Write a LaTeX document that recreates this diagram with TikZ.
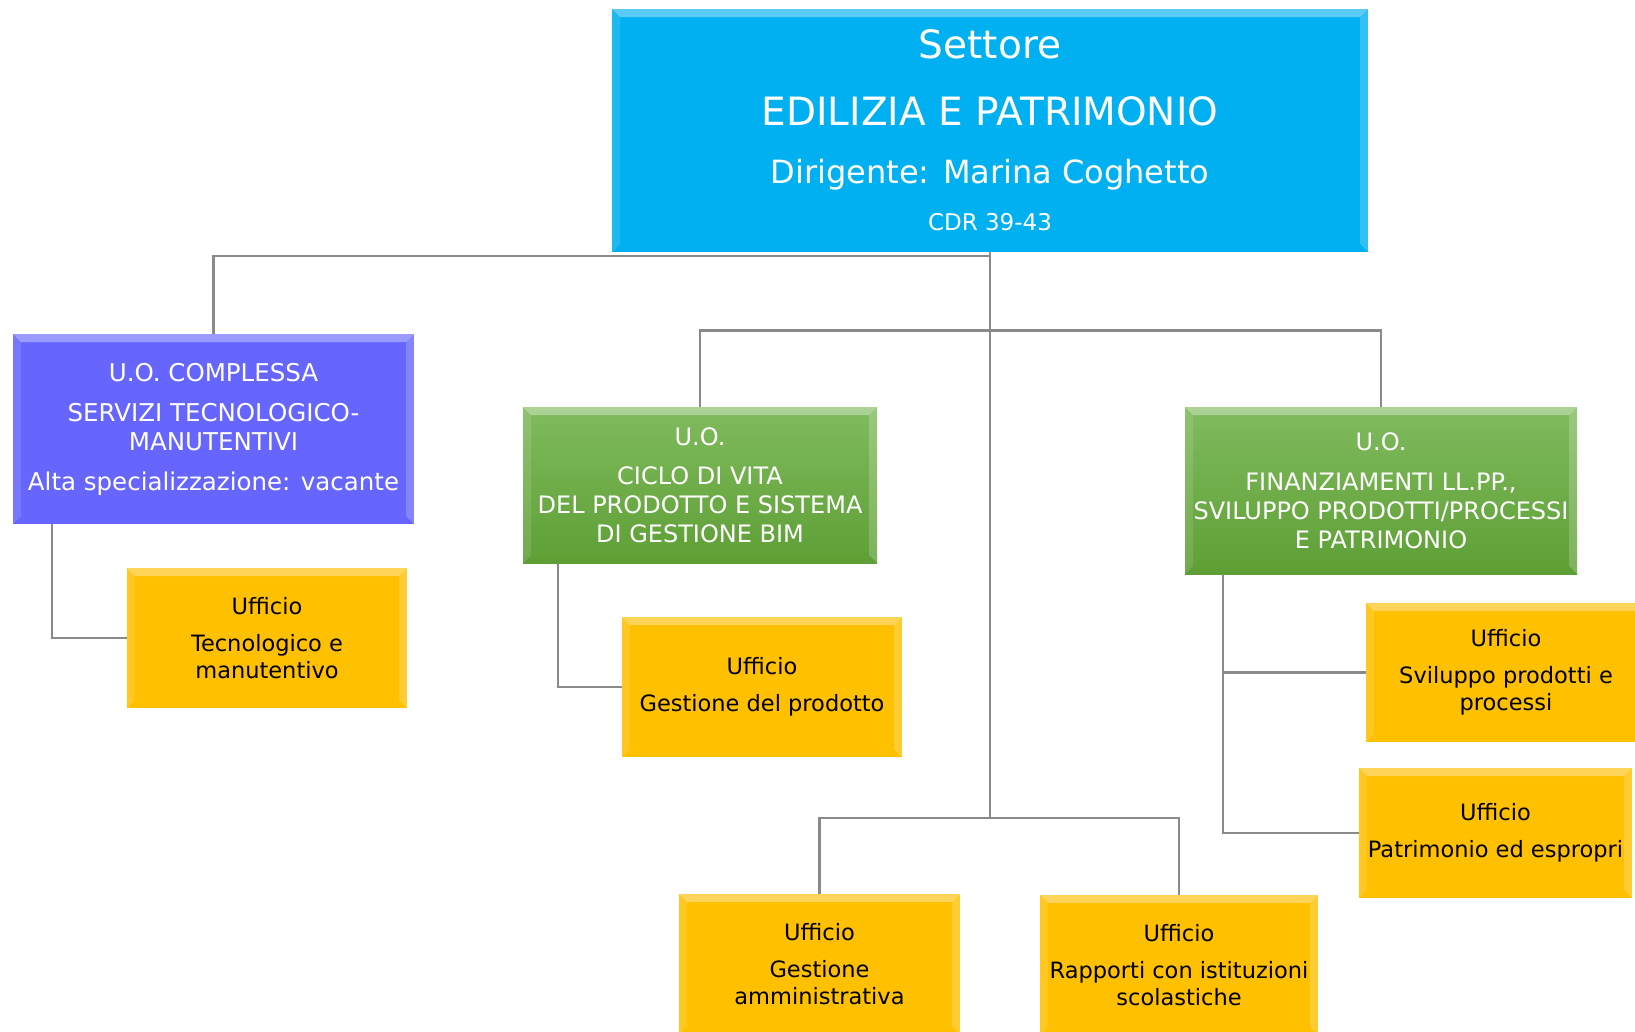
\documentclass[tikz,border=0pt]{standalone}
\usepackage{fontspec}
\setmainfont{DejaVu Sans}
\definecolor{settorecol}{HTML}{00B0F0}
\definecolor{uoccol}{HTML}{6666FF}
\definecolor{uotop}{HTML}{80BB5E}
\definecolor{uobot}{HTML}{5E9F35}
\definecolor{ufficiocol}{HTML}{FFC000}
\definecolor{linkcol}{HTML}{8A8A8A}

\begin{document}
\begin{tikzpicture}[x=1pt,y=-1pt,
  bevel/.style={path picture={
    \fill[white,opacity=.35] (path picture bounding box.north west) -- (path picture bounding box.north east)
      -- ([shift={(-8,8)}]path picture bounding box.north east) -- ([shift={(8,8)}]path picture bounding box.north west) -- cycle;
    \fill[white,opacity=.2] (path picture bounding box.north east) -- (path picture bounding box.south east)
      -- ([shift={(-8,-8)}]path picture bounding box.south east) -- ([shift={(-8,8)}]path picture bounding box.north east) -- cycle;
    \fill[white,opacity=.12] (path picture bounding box.north west) -- (path picture bounding box.south west)
      -- ([shift={(8,-8)}]path picture bounding box.south west) -- ([shift={(8,8)}]path picture bounding box.north west) -- cycle;
  }},
  box/.style={rectangle,align=center,inner sep=2pt,bevel},
  settore/.style={box,fill=settorecol,text=white,font=\fontsize{23}{40}\selectfont},
  uoc/.style={box,fill=uoccol,text=white,font=\fontsize{24.5}{29}\selectfont},
  uo/.style={box,top color=uotop,bottom color=uobot,text=white,font=\fontsize{24}{29}\selectfont},
  ufficio/.style={box,fill=ufficiocol,text=black,font=\fontsize{22.5}{27}\selectfont},
  link/.style={draw=linkcol,line width=2.5}
]
\useasboundingbox (0,0) rectangle (1635,1031);
\clip (0,0) rectangle (1635,1031);

% settore
\node[settore,minimum width=756,minimum height=243] (settore) at (990,130.5)
  {{\fontsize{39}{40}\selectfont Settore}\\[27pt]{\fontsize{39}{40}\selectfont EDILIZIA E PATRIMONIO}\\[18pt]{\fontsize{32}{40}\selectfont Dirigente: Marina Coghetto}\\[7pt]CDR 39-43};

% unita' operative
\node[uoc,minimum width=401,minimum height=190] (uoc) at (213.5,429)
  {U.O. COMPLESSA\\[11pt]SERVIZI TECNOLOGICO-\\MANUTENTIVI\\[11pt]Alta specializzazione: vacante};
\node[uo,minimum width=354,minimum height=156] (ciclo) at (700,485)
  {U.O.\\[10pt]CICLO DI VITA\\DEL PRODOTTO E SISTEMA\\DI GESTIONE BIM};
\node[uo,minimum width=392,minimum height=167] (finanz) at (1381,490.5)
  {U.O.\\[11pt]FINANZIAMENTI LL.PP.,\\SVILUPPO PRODOTTI/PROCESSI\\E PATRIMONIO};

% uffici
\node[ufficio,minimum width=280,minimum height=140] (uTec) at (267,638)
  {Ufficio\\[10pt]Tecnologico e\\manutentivo};
\node[ufficio,minimum width=280,minimum height=140] (uProd) at (762,687)
  {Ufficio\\[10pt]Gestione del prodotto};
\node[ufficio,minimum width=280,minimum height=139] (uSvil) at (1506,672.5)
  {Ufficio\\[10pt]Sviluppo prodotti e\\processi};
\node[ufficio,minimum width=273,minimum height=130] (uPatr) at (1495.5,833)
  {Ufficio\\[10pt]Patrimonio ed espropri};
\node[ufficio,minimum width=281,minimum height=140] (uAmm) at (819.5,964)
  {Ufficio\\[10pt]Gestione\\amministrativa};
\node[ufficio,minimum width=278,minimum height=140] (uRapp) at (1179,965)
  {Ufficio\\[10pt]Rapporti con istituzioni\\scolastiche};

\coordinate (jA) at (990,256);
\coordinate (jB) at (990,330.5);
\coordinate (jC) at (990,818);

% collegamenti
\draw[link] (settore.south) -- (jC);
\draw[link] (jA) -| (uoc.north);
\draw[link] (ciclo.north) |- (jB) -| (finanz.north);
\draw[link] (uAmm.north) |- (jC) -| (uRapp.north);
\draw[link] (uoc.south west) ++(39,0) |- (uTec.west);
\draw[link] (ciclo.south west) ++(35,0) |- (uProd.west);
\draw[link] (finanz.south west) ++(38,0) |- (uSvil.west);
\draw[link] (finanz.south west) ++(38,0) |- (uPatr.west);
\end{tikzpicture}
\end{document}
